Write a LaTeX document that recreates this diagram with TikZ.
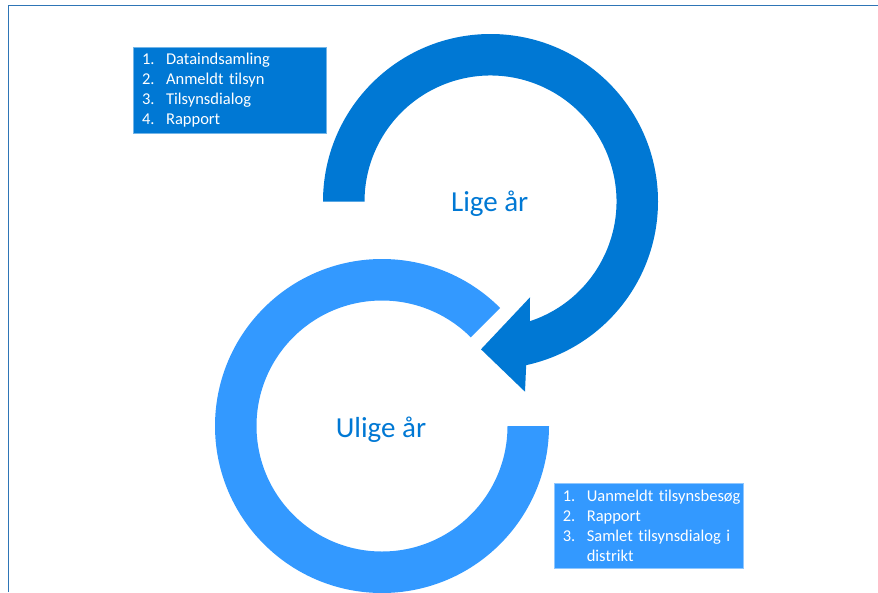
\documentclass[tikz,border=0pt]{standalone}
\usepackage{fontspec}
\setmainfont{Carlito}[Ligatures=NoCommon]
\usepackage{xcolor}
\usepackage{tikz}
\usetikzlibrary{positioning, calc}
\definecolor{moerkblaa}{HTML}{0078D4}
\definecolor{lysblaa}{HTML}{3399FF}
\definecolor{rammeblaa}{HTML}{2E75B6}
\tikzstyle{listbox} = [rectangle, anchor=north west, align=left, text=white, font=\fontsize{16.5}{20}\selectfont, inner xsep=8.4pt, inner ysep=0pt, line width=0.8pt]
\tikzstyle{yearlabel} = [anchor=base, font=\fontsize{29}{34}\selectfont, text=moerkblaa]
\tikzstyle{frame} = [draw=rammeblaa, line width=1.3pt]
\newcommand{\punkt}[2]{\mbox{\makebox[24pt][l]{#1}#2}}

\begin{document}
\begin{tikzpicture}[x=1pt, y=1pt]
            \useasboundingbox (0,0) rectangle (878,-592);
            \coordinate (ligec) at (490.5,-201.5);
            \coordinate (uligec) at (382,-426);
            % ramme
            \draw[frame] (8.3,-592) -- (8.3,-5.3) -- (878,-5.3);
            % ulige aar (ring)
            \fill[lysblaa] ($(uligec)+(45:167)$) arc[start angle=45, end angle=360, radius=167pt] -- ($(uligec)+(0:125.5)$) arc[start angle=360, end angle=45, radius=125.5pt] -- cycle;
            % lige aar (pil)
            \fill[moerkblaa] ($(ligec)+(180:167.5)$) arc[start angle=180, end angle=-77.7, radius=167.5pt] -- (525,-391.7) -- (481,-349.3) -- (530,-297.3) -- ($(ligec)+(-71.8:126)$) arc[start angle=-71.8, end angle=180, radius=126pt] -- cycle;

            \node[yearlabel] (lige) at (489.7,-211) {Lige år};
            \node[yearlabel] (ulige) at (381,-437) {Ulige år};

            \node[listbox, fill=moerkblaa, draw=moerkblaa!55!white, minimum width=192.7pt, minimum height=86.6pt, text width=175.9pt] (ligeliste) at (133.3,-46.7) {\punkt{1.}{Dataindsamling}\\\punkt{2.}{Anmeldt tilsyn}\\\punkt{3.}{Tilsynsdialog}\\\punkt{4.}{Rapport}};
            \node[listbox, fill=lysblaa, draw=lysblaa!55!white, minimum width=189.3pt, minimum height=85pt, text width=172.5pt] (uligeliste) at (554,-483.3) {\punkt{1.}{Uanmeldt tilsynsbesøg}\\\punkt{2.}{Rapport}\\\punkt{3.}{Samlet tilsynsdialog i}\\\punkt{}{distrikt}};
        \end{tikzpicture}
\end{document}
